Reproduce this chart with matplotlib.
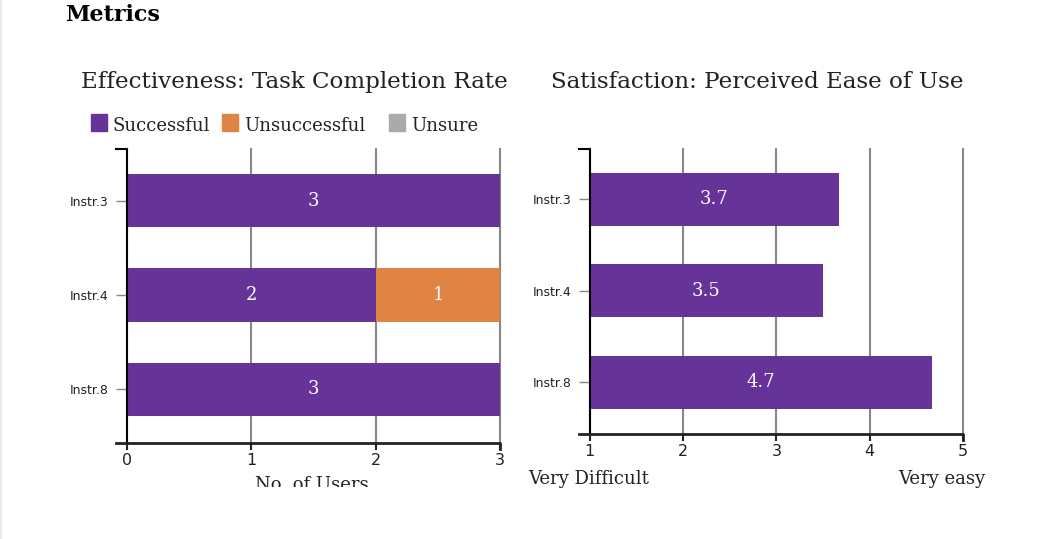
import matplotlib
matplotlib.use("Agg")
import matplotlib.pyplot as plt
from matplotlib.lines import Line2D
from matplotlib.patches import Rectangle
from matplotlib.transforms import Bbox, TransformedBbox

instructors = ["Instr.3", "Instr.4", "Instr.8"]
successful = [3, 2, 3]
unsuccessful = [0, 1, 0]
unsure = [0, 0, 0]
ease = [3.67, 3.5, 4.67]

legend_labels = ["Successful", "Unsuccessful", "Unsure"]
purple = "#663399"
orange = "#e08444"
grey = "#aaaaaa"
colors = [purple, orange, grey]

W, H = 1058, 539
fig = plt.figure(figsize=(W / 100, H / 100), dpi=100)
fig.patch.set_facecolor("white")


def fx(px):
    return px / W


def fy(py):
    return 1 - py / H


ax1 = fig.add_axes([fx(127), fy(443.3), fx(500.3) - fx(127), fy(149.3) - fy(443.3)])
ax2 = fig.add_axes([fx(589.7), fy(434.3), fx(963) - fx(589.7), fy(149.3) - fy(434.3)])

ypos = list(range(len(instructors)))


def style_axis(ax, out_px):
    for s in ["top", "right", "left", "bottom"]:
        ax.spines[s].set_visible(False)
    ax.set_axisbelow(True)
    ax.grid(axis="x", color="#888888", lw=1.5)
    ax.grid(axis="y", visible=False)
    for g in ax.get_xgridlines():
        g.set_clip_on(False)
    ax.tick_params(axis="y", length=8, width=1, color="#888888", pad=5,
                   labelsize=9, labelcolor="#222222")
    ax.tick_params(axis="x", length=5, width=1.5, color="#222222", pad=2,
                   labelsize=11.5, labelcolor="#222222")
    # y-axis domain with outer ticks
    bw = ax.get_position().width * W
    d = out_px / bw
    ax.add_line(Line2D([-d, 0, 0], [1, 1, 0], transform=ax.transAxes,
                       color="black", lw=1.5, clip_on=False, zorder=5))
    ax.add_line(Line2D([-d, 1, 1], [0, 0, -6 / (ax.get_position().height * H)],
                       transform=ax.transAxes, color="#222222", lw=2,
                       clip_on=False, zorder=5))


# left: task completion
left = [0] * len(instructors)
for vals, c in zip([successful, unsuccessful, unsure], colors):
    ax1.barh(ypos, vals, left=left, height=0.565, color=c, zorder=2)
    for y, v, l in zip(ypos, vals, left):
        if v > 0:
            ax1.text(l + v / 2, y, str(v), color="white", ha="center",
                     va="center", family="DejaVu Serif", fontsize=13, zorder=3)
    left = [a + b for a, b in zip(left, vals)]

ax1.set_xlim(0, 3)
ax1.set_ylim(2.572, -0.547)
ax1.set_xticks([0, 1, 2, 3])
ax1.set_yticks(ypos)
ax1.set_yticklabels(instructors)
style_axis(ax1, 11)
lab = fig.text(fx(312), fy(490), "No. of Users", ha="center", va="baseline",
               family="DejaVu Serif", fontsize=13, color="#222222")
lab.set_clip_box(TransformedBbox(Bbox([[0, fy(487)], [1, 1]]), fig.transFigure))
lab.set_clip_on(True)

# right: ease of use
ax2.barh(ypos, [v - 1 for v in ease], left=1, height=0.58, color=purple, zorder=2)
for y, v in zip(ypos, ease):
    ax2.text((1 + v) / 2, y, f"{v:.1f}", color="white", ha="center",
             va="center", family="DejaVu Serif", fontsize=13, zorder=3)
ax2.set_xlim(1, 5)
ax2.set_ylim(2.567, -0.545)
ax2.set_xticks([1, 2, 3, 4, 5])
ax2.set_yticks(ypos)
ax2.set_yticklabels(instructors)
style_axis(ax2, 11)
fig.text(fx(528), fy(484), "Very Difficult", ha="left", va="baseline",
         family="DejaVu Serif", fontsize=13, color="#222222")
fig.text(fx(985), fy(484), "Very easy", ha="right", va="baseline",
         family="DejaVu Serif", fontsize=13, color="#222222")

# titles
fig.text(fx(65), fy(21), "Metrics", ha="left", va="baseline",
         family="DejaVu Serif", fontsize=16, fontweight="bold", color="black")
fig.text(fx(294), fy(88), "Effectiveness: Task Completion Rate", ha="center",
         va="baseline", family="DejaVu Serif", fontsize=16.6, color="#222222")
fig.text(fx(757), fy(88), "Satisfaction: Perceived Ease of Use", ha="center",
         va="baseline", family="DejaVu Serif", fontsize=16.6, color="#222222")

# legend
leg_x = [91, 222, 389]
for x, t, c in zip(leg_x, legend_labels, colors):
    fig.add_artist(Rectangle((fx(x), fy(131)), 16 / W, 17 / H, color=c,
                             transform=fig.transFigure))
    fig.text(fx(x + 22), fy(131), t, ha="left", va="baseline",
             family="DejaVu Serif", fontsize=13, color="#222222")

fig.add_artist(Line2D([0.001, 0.001], [0, 1], color="#e8e8e8", lw=1.5,
                      transform=fig.transFigure))

fig.savefig("out.png", dpi=100)
